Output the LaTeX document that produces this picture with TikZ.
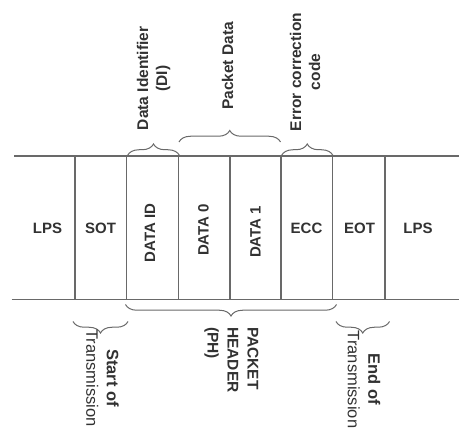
\documentclass[tikz,border=0pt]{standalone}
\usepackage{fontspec}
\setmainfont{Liberation Sans}
\usetikzlibrary{decorations.pathreplacing}
\definecolor{linec}{RGB}{105,105,105}
\definecolor{textc}{RGB}{50,50,50}
\begin{document}
\begin{tikzpicture}[x=1pt,y=-1pt,
  rule/.style={draw=linec, line width=1.2pt},
  bracebox/.style={draw=linec, line width=1pt, decorate, decoration={brace, amplitude=11.5pt}},
  cell/.style={text=textc, font=\fontsize{15}{18}\selectfont\bfseries, inner sep=0pt},
  toplab/.style={text=textc, font=\fontsize{15.5}{19}\selectfont\bfseries, align=center, rotate=90, inner sep=0pt},
  botlab/.style={text=textc, font=\fontsize{16.5}{20.5}\selectfont, rotate=-90, inner sep=0pt}]
\useasboundingbox (0,0) rectangle (459,433);
% horizontal rails
\draw[rule] (14,156) -- (459,156);
\draw[rule] (11.7,299.3) -- (459,299.3);
% dividers
\foreach \x in {75,126.5,178.5,230,281,332.5,385}
  \draw[rule] (\x,156) -- (\x,299.3);
% cell labels
\node[cell] (lps1) at (47.5,228) {LPS};
\node[cell] (sot) at (100.5,228) {SOT};
\node[cell, rotate=90] (dataid) at (150,233) {DATA ID};
\node[cell, rotate=90] (data0) at (203.5,230) {DATA 0};
\node[cell, rotate=90] (data1) at (255.5,232) {DATA 1};
\node[cell] (ecc) at (306.5,228) {ECC};
\node[cell] (eot) at (359.5,228) {EOT};
\node[cell] (lps2) at (418,228) {LPS};
% top braces
\coordinate (diL) at (127.5,155.5);
\coordinate (diR) at (179.5,155.5);
\coordinate (pdL) at (179,142);
\coordinate (pdR) at (280.5,142);
\coordinate (ecL) at (281.5,155.5);
\coordinate (ecR) at (333,155.5);
\draw[bracebox] (diL) -- (diR);
\draw[bracebox] (pdL) -- (pdR);
\draw[bracebox] (ecL) -- (ecR);
% top labels
\node[toplab] (dilab) at (153.5,78.5) {Data Identifier\\(DI)};
\node[toplab] (pdlab) at (227.5,66) {Packet Data};
\node[toplab] (eclab) at (305,72) {Error correction\\code};
% bottom braces
\coordinate (soL) at (73,321.5);
\coordinate (soR) at (128,321.5);
\coordinate (phL) at (125.5,304.5);
\coordinate (phR) at (336.5,304.5);
\coordinate (eoL) at (336,321.5);
\coordinate (eoR) at (389.5,321.5);
\draw[bracebox] (soR) -- (soL);
\draw[bracebox] (phR) -- (phL);
\draw[bracebox] (eoR) -- (eoL);
% bottom labels
\node[botlab, align=center] (solab) at (102.5,378) {\textbf{Start of}\\Transmission};
\node[botlab, align=left, anchor=west, font=\fontsize{15.5}{20}\selectfont\bfseries] (phlab) at (231.5,327) {PACKET\\HEADER\\(PH)};
\node[botlab, align=center] (eolab) at (364,379.5) {\textbf{End of}\\Transmission};
\end{tikzpicture}
\end{document}
